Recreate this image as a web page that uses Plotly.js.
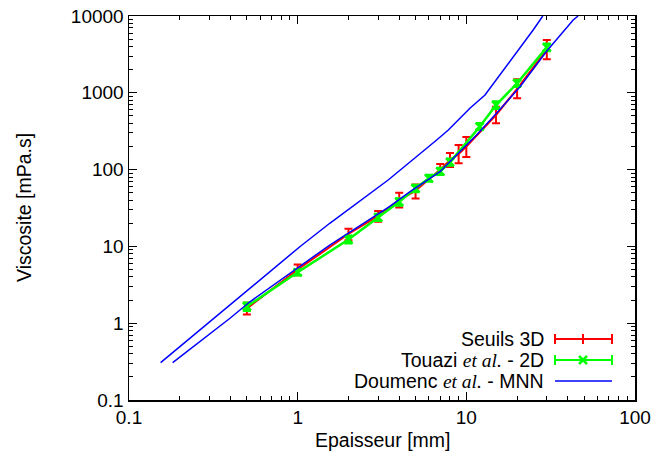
<!DOCTYPE html>
<html>
<head>
<meta charset="utf-8">
<script src="https://cdn.plot.ly/plotly-3.0.1.min.js"></script>
<style>html,body{margin:0;padding:0;background:#fff;}#chart{width:657px;height:462px;}</style>
</head>
<body>
<div id="chart"></div>
<script>
// Seuils 3D (red, with error bars)
const seuilsX = [0.5, 1, 2, 3, 4, 5, 7, 8, 9, 10, 15, 20, 30];
const seuilsY = [1.55, 5.0, 14.5, 25, 40, 53, 100, 133, 160, 200, 514, 1127, 3640];
const seuilsLow = [1.3, 4.2, 12, 21, 32, 42, 85, 108, 121, 146, 400, 848, 2730];
const seuilsHigh = [1.85, 5.8, 17, 29, 50, 64, 118, 164, 209, 266, 659, 1500, 4870];

// Touazi et al. - 2D (green, x markers, error bars)
const touaziX = [0.5, 1, 2, 3, 4, 5, 6, 7, 8, 12, 15, 20, 30];
const touaziY = [1.65, 4.6, 12.3, 23.8, 38, 57, 77, 95, 125, 362, 693, 1330, 3900];
const touaziLow = [1.45, 4.2, 11, 21.5, 34, 51, 70, 86, 113, 330, 620, 1200, 3500];
const touaziHigh = [1.85, 5.0, 13.8, 26.5, 42, 63, 85, 105, 138, 400, 770, 1470, 4350];

// Doumenc et al. - MNN (blue, two curves; null separates them)
const doumencX = [0.154, 0.397, 0.521, 0.822, 1.03, 1.55, 3.44, 6.67, 7.82, 10.5, 12.9, 24.9, 27.3, 28.4,
                  null,
                  0.1815, 0.397, 0.521, 1.55, 3.5, 4.64, 6.98, 11.5, 15.1, 20.8, 30, 43, 46];
const doumencY = [0.306, 1.73, 2.84, 6.65, 9.9, 20.0, 73.2, 243, 328, 629, 936, 6575, 8870, 10000,
                  null,
                  0.306, 1.16, 1.9, 10.4, 32.9, 51.6, 94, 282, 541, 1200, 3500, 8870, 10000];

// Tick labels
const xTickVals = [0.1, 1, 10, 100];
const xTickText = ["0.1", "1", "10", "100"];
const yTickVals = [0.1, 1, 10, 100, 1000, 10000];
const yTickText = ["0.1", "1", "10", "100", "1000", "10000"];

// Axis titles
const xTitle = "Epaisseur [mm]";
const yTitle = "Viscosite [mPa.s]";

// Legend entries
const legendNames = ["Seuils 3D",
  "Touazi <span style=\"font-family:Liberation Serif\"><i>et al.</i></span> - 2D",
  "Doumenc <span style=\"font-family:Liberation Serif\"><i>et al.</i></span> - MNN"];
const legendColors = ["#ff0000", "#00ff00", "#0000ff"];

const RED = legendColors[0], GREEN = legendColors[1], BLUE = legendColors[2];
const FONT = "Liberation Sans, Arial, Helvetica, sans-serif";
const FS = 19;
const FS_TXT = 19.5;

function errs(y, lo, hi) {
  return {
    plus: y.map((v, i) => hi[i] - v),
    minus: y.map((v, i) => v - lo[i])
  };
}
const se = errs(seuilsY, seuilsLow, seuilsHigh);
const te = errs(touaziY, touaziLow, touaziHigh);

const traces = [
  {
    x: seuilsX, y: seuilsY, type: "scatter", mode: "lines",
    line: {color: RED, width: 2},
    error_y: {type: "data", symmetric: false, array: se.plus, arrayminus: se.minus,
              color: RED, thickness: 2, width: 4},
    showlegend: false
  },
  {
    x: touaziX, y: touaziY, type: "scatter", mode: "lines+markers",
    line: {color: GREEN, width: 2.5},
    marker: {symbol: "x-thin", size: 8, line: {color: GREEN, width: 2.5}, color: GREEN},
    error_y: {type: "data", symmetric: false, array: te.plus, arrayminus: te.minus,
              color: GREEN, thickness: 2.5, width: 4},
    showlegend: false
  },
  {
    x: doumencX, y: doumencY, type: "scatter", mode: "lines",
    line: {color: BLUE, width: 1.5},
    connectgaps: false, showlegend: false
  }
];

// plot area in pixels
const L = 129, R = 635, T = 16, B = 400;
const px2x = p => (p - L) / (R - L);
const px2y = p => (B - p) / (B - T);

const legendRows = [339, 360, 381];
const annotations = [];
const shapes = [];
legendNames.forEach((name, i) => {
  annotations.push({
    xref: "paper", yref: "paper", x: px2x(545), y: px2y(legendRows[i]),
    xanchor: "right", yanchor: "middle", showarrow: false, borderpad: 0,
    text: name, font: {family: FONT, size: FS_TXT, color: "#000"}
  });
  shapes.push({type: "line", xref: "paper", yref: "paper",
    x0: px2x(555), x1: px2x(612), y0: px2y(legendRows[i]), y1: px2y(legendRows[i]),
    line: {color: legendColors[i], width: i === 2 ? 1.5 : 2}});
  if (i < 2) {
    [555, 612].forEach(xp => shapes.push({type: "line", xref: "paper", yref: "paper",
      x0: px2x(xp), x1: px2x(xp), y0: px2y(legendRows[i] - 5), y1: px2y(legendRows[i] + 5),
      line: {color: legendColors[i], width: 2}}));
  }
  if (i === 0) {
    shapes.push({type: "line", xref: "paper", yref: "paper",
      x0: px2x(583), x1: px2x(583), y0: px2y(legendRows[i] - 5), y1: px2y(legendRows[i] + 5),
      line: {color: RED, width: 2}});
  }
  if (i === 1) {
    shapes.push({type: "line", xref: "paper", yref: "paper",
      x0: px2x(579), x1: px2x(587), y0: px2y(legendRows[i] - 4), y1: px2y(legendRows[i] + 4),
      line: {color: GREEN, width: 2.5}});
    shapes.push({type: "line", xref: "paper", yref: "paper",
      x0: px2x(579), x1: px2x(587), y0: px2y(legendRows[i] + 4), y1: px2y(legendRows[i] - 4),
      line: {color: GREEN, width: 2.5}});
  }
});

// axis titles as centred annotations
annotations.push({
  xref: "paper", yref: "paper", x: 0.5, y: px2y(440),
  xanchor: "center", yanchor: "middle", showarrow: false,
  text: xTitle, font: {family: FONT, size: FS_TXT, color: "#000"}
});
annotations.push({
  xref: "paper", yref: "paper", x: px2x(24), y: 0.5,
  xanchor: "center", yanchor: "middle", showarrow: false, textangle: -90,
  text: yTitle, font: {family: FONT, size: FS_TXT, color: "#000"}
});

const axisCommon = {
  type: "log", showgrid: false, zeroline: false,
  showline: true, linecolor: "#000", linewidth: 1.5, mirror: "ticks",
  ticks: "inside", ticklen: 8, tickwidth: 1, tickcolor: "#000",
  tickfont: {family: FONT, size: FS, color: "#000"},
  tickmode: "array",
  minor: {ticks: "inside", ticklen: 4, tickwidth: 1, tickcolor: "#000", dtick: "D1", showgrid: false},
  automargin: false
};

const layout = {
  width: 657, height: 462,
  margin: {l: L, r: 657 - R, t: T, b: 462 - B, pad: 0},
  paper_bgcolor: "#fff", plot_bgcolor: "#fff",
  showlegend: false,
  font: {family: FONT, size: FS, color: "#000"},
  xaxis: Object.assign({}, axisCommon, {
    range: [-1, 2], tickvals: xTickVals, ticktext: xTickText
  }),
  yaxis: Object.assign({}, axisCommon, {
    range: [-1, 4], tickvals: yTickVals, ticktext: yTickText
  }),
  annotations: annotations,
  shapes: shapes
};

Plotly.newPlot("chart", traces, layout, {staticPlot: true, displayModeBar: false});
</script>
</body>
</html>
